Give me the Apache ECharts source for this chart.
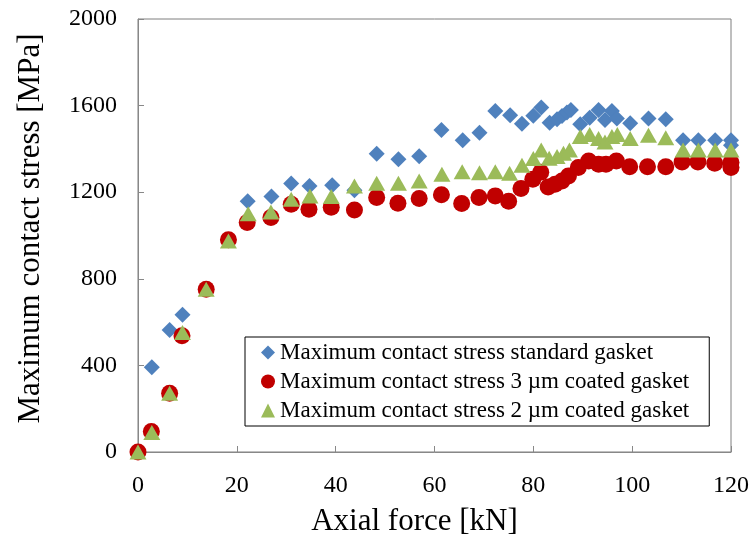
<!DOCTYPE html>
<html>
<head>
<meta charset="utf-8">
<script src="https://cdn.jsdelivr.net/npm/echarts@6/dist/echarts.min.js"></script>
<style>html,body{margin:0;padding:0;background:#fff;}#c{width:753px;height:542px;}</style>
</head>
<body>
<div id="c"></div>
<script>
// Standard gasket
var stdX = [0, 2.8, 6.4, 9.0, 13.8, 18.3, 22.2, 27.0, 31.0, 34.7, 39.3, 43.8, 48.3, 52.7, 56.9, 61.4, 65.7, 69.1, 72.3, 75.3, 77.7, 80.0, 81.6, 83.3, 84.8, 85.8, 86.8, 87.6, 89.5, 91.4, 93.2, 94.5, 95.9, 96.9, 99.6, 103.3, 106.8, 110.3, 113.4, 116.8, 120, 120];
var stdY = [0, 391, 563, 634, 752, 978, 1158, 1180, 1240, 1229, 1232, 1209, 1378, 1352, 1366, 1487, 1440, 1475, 1575, 1555, 1516, 1553, 1591, 1521, 1537, 1552, 1568, 1580, 1514, 1544, 1580, 1533, 1575, 1540, 1518, 1540, 1537, 1440, 1440, 1440, 1440, 1417];
// 3 um coated gasket
var c3X = [0, 2.7, 6.4, 8.9, 13.8, 18.3, 22.1, 26.9, 31.0, 34.6, 39.1, 43.8, 48.3, 52.6, 56.9, 61.4, 65.5, 69.0, 72.3, 75.0, 77.5, 79.9, 81.5, 83.0, 84.4, 85.8, 87.1, 89.1, 91.2, 93.2, 94.7, 96.8, 99.5, 103.1, 106.8, 110.1, 113.3, 116.7, 120, 120];
var c3Y = [0, 95, 271, 537, 752, 980, 1060, 1083, 1144, 1121, 1131, 1118, 1175, 1149, 1171, 1188, 1148, 1175, 1183, 1158, 1217, 1260, 1292, 1224, 1237, 1252, 1275, 1314, 1344, 1329, 1329, 1344, 1318, 1318, 1318, 1340, 1340, 1334, 1337, 1314];
// 2 um coated gasket
var c2X = [0, 2.8, 6.4, 9.0, 13.8, 18.3, 22.3, 26.9, 31.0, 34.8, 39.1, 43.8, 48.3, 52.7, 56.9, 61.5, 65.6, 69.1, 72.3, 75.2, 77.7, 80.0, 81.6, 83.2, 84.8, 86.1, 87.3, 89.5, 91.4, 93.2, 94.5, 95.9, 97.0, 99.6, 103.3, 106.8, 110.3, 113.4, 116.8, 120];
var c2Y = [0, 90, 271, 552, 752, 975, 1101, 1109, 1168, 1183, 1180, 1229, 1241, 1241, 1252, 1283, 1294, 1290, 1294, 1288, 1325, 1356, 1395, 1357, 1365, 1380, 1395, 1457, 1467, 1448, 1432, 1457, 1467, 1448, 1463, 1452, 1395, 1395, 1395, 1395];

var seriesNames = ['Maximum contact stress standard gasket', 'Maximum contact stress 3 \u00b5m coated gasket', 'Maximum contact stress 2 \u00b5m coated gasket'];
var xTicks = [0, 20, 40, 60, 80, 100, 120];
var yTicks = [0, 400, 800, 1200, 1600, 2000];

function pairs(xs, ys) { return xs.map(function (x, i) { return [x, ys[i]]; }); }

var font = "'Liberation Serif', 'Times New Roman', serif";
var chart = echarts.init(document.getElementById('c'), null, { renderer: 'canvas' });
chart.setOption({
  animation: false,
  backgroundColor: '#ffffff',
  grid: { left: 138, right: 22, top: 19, bottom: 89, show: true, borderColor: '#7f7f7f', borderWidth: 1, backgroundColor: 'transparent' },
  xAxis: {
    type: 'value', min: xTicks[0], max: xTicks[xTicks.length - 1], interval: 20,
    name: 'Axial force [kN]', nameLocation: 'middle', nameGap: 54,
    nameTextStyle: { fontFamily: font, fontSize: 31, color: '#000', padding: [0, 40, 0, 0] },
    axisLine: { show: true, lineStyle: { color: '#888', width: 1 } },
    axisTick: { show: true, inside: true, length: 6, lineStyle: { color: '#888' } },
    axisLabel: { margin: 22, fontFamily: font, fontSize: 24, color: '#000', formatter: function (v) { return String(v); } },
    splitLine: { show: false }
  },
  yAxis: {
    type: 'value', min: yTicks[0], max: yTicks[yTicks.length - 1], interval: 400,
    name: 'Maximum contact stress [MPa]', nameLocation: 'middle', nameGap: 92,
    nameTextStyle: { fontFamily: font, fontSize: 31, color: '#000', padding: [0, 0, 0, 14] },
    axisLine: { show: true, lineStyle: { color: '#888', width: 1 } },
    axisTick: { show: true, inside: true, length: 6, lineStyle: { color: '#888' } },
    axisLabel: { margin: 21, fontFamily: font, fontSize: 24, color: '#000', formatter: function (v) { return String(v); } },
    splitLine: { show: false }
  },
  legend: {
    orient: 'vertical', left: 245, top: 337,
    backgroundColor: '#fff', borderColor: '#000', borderWidth: 1,
    padding: [4, 20, 4, 16], itemGap: 6, itemWidth: 14, itemHeight: 14,
    textStyle: { fontFamily: font, fontSize: 23, color: '#000', lineHeight: 21, padding: [0, 0, 0, 0] },
    data: seriesNames
  },
  series: [
    { name: seriesNames[0], type: 'scatter', symbol: 'diamond', symbolSize: [16, 16], itemStyle: { color: '#4F81BD', opacity: 1 }, data: pairs(stdX, stdY), z: 2 },
    { name: seriesNames[1], type: 'scatter', symbol: 'circle', symbolSize: 17, itemStyle: { color: '#C00000', opacity: 1 }, data: pairs(c3X, c3Y), z: 3 },
    { name: seriesNames[2], type: 'scatter', symbol: 'triangle', symbolSize: [17, 15], itemStyle: { color: '#9BBB59', opacity: 1 }, data: pairs(c2X, c2Y), z: 4 }
  ]
});
</script>
</body>
</html>
